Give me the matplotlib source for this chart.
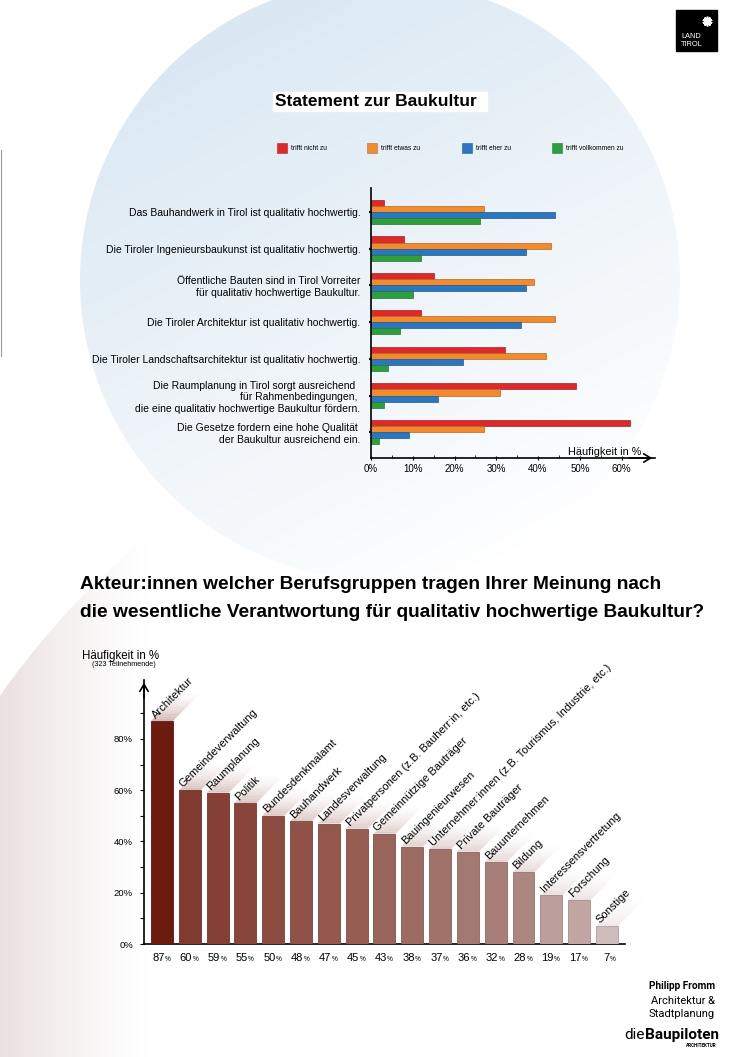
import numpy as np
import matplotlib.pyplot as plt
from matplotlib.patches import Circle, Rectangle, Polygon
from matplotlib.colors import to_rgb

plt.rcParams['font.family'] = ['Liberation Sans', 'DejaVu Sans']

W, H = 740, 1057

# Daten oben: Statement zur Baukultur
aussagen = [
    'Das Bauhandwerk in Tirol ist qualitativ hochwertig.',
    'Die Tiroler Ingenieursbaukunst ist qualitativ hochwertig.',
    'Öffentliche Bauten sind in Tirol Vorreiter\nfür qualitativ hochwertige Baukultur.',
    'Die Tiroler Architektur ist qualitativ hochwertig.',
    'Die Tiroler Landschaftsarchitektur ist qualitativ hochwertig.',
    'Die Raumplanung in Tirol sorgt ausreichend  \nfür Rahmenbedingungen, \ndie eine qualitativ hochwertige Baukultur fördern.',
    'Die Gesetze fordern eine hohe Qualität \nder Baukultur ausreichend ein.',
]
antworten = ['trifft nicht zu', 'trifft etwas zu', 'trifft eher zu', 'trifft vollkommen zu']
trifft_nicht = [3, 8, 15, 12, 32, 49, 62]
trifft_etwas = [27, 43, 39, 44, 42, 31, 27]
trifft_eher = [44, 37, 37, 36, 22, 16, 9]
trifft_voll = [26, 12, 10, 7, 4, 3, 2]
x_ticks_oben = [0, 10, 20, 30, 40, 50, 60]

# Daten unten: Berufsgruppen
berufe = ['Architektur', 'Gemeindeverwaltung', 'Raumplanung', 'Politik',
          'Bundesdenkmalamt', 'Bauhandwerk', 'Landesverwaltung',
          'Privatpersonen (z.B. Bauherr:in, etc.)', 'Gemeinnützige Bauträger',
          'Bauingenieurwesen', 'Unternehmer:innen (z.B. Tourismus, Industrie, etc.)',
          'Private Bauträger', 'Bauunternehmen', 'Bildung',
          'Interessensvertretung', 'Forschung', 'Sonstige']
anteil = [87, 60, 59, 55, 50, 48, 47, 45, 43, 38, 37, 36, 32, 28, 19, 17, 7]
y_ticks_unten = [0, 20, 40, 60, 80]

farben_oben = ['#dc2a2a', '#f28a2e', '#2a77c0', '#2e9e3e']
bar_farben = ['#6d1a0f', '#813a2f', '#853f34', '#894539', '#8d4b40', '#905146',
              '#93574c', '#965d53', '#99645a', '#9c6b62', '#a0726a', '#a37870',
              '#a77f78', '#ab877f', '#bb9e9b', '#c1a6a4', '#cfbcbc']


def dunkler(c, f=0.8):
    r, g, b = to_rgb(c)
    return (r * f, g * f, b * f)


def heller(c, f=0.5):
    r, g, b = to_rgb(c)
    return (r + (1 - r) * f, g + (1 - g) * f, b + (1 - b) * f)


def px_axes(l, t, r, b):
    return fig.add_axes([l / W, 1 - b / H, (r - l) / W, (b - t) / H])


fig = plt.figure(figsize=(W / 100, H / 100), dpi=100)

# Hintergrund
bg = fig.add_axes([0, 0, 1, 1])
bg.set_zorder(0)
yy, xx = np.mgrid[0:H, 0:W].astype(float)

t = np.clip(((xx - 200) * 300 + yy * 570) / 414900, 0, 1)
blau = np.array([0.85, 0.905, 0.95])
img = blau + (1 - blau) * t[..., None]
im = bg.imshow(img, extent=(0, W, H, 0), aspect='auto', interpolation='bilinear')
im.set_clip_path(Circle((380, 280), 300, transform=bg.transData))

a = np.clip(1 - xx / 150, 0, 1) ** 1.3
rosa = np.zeros((H, W, 4))
rosa[..., 0], rosa[..., 1], rosa[..., 2] = 0.925, 0.88, 0.88
rosa[..., 3] = a
im2 = bg.imshow(rosa, extent=(0, W, H, 0), aspect='auto', interpolation='bilinear')
im2.set_clip_path(Circle((650, 1150), 793, transform=bg.transData))

bg.plot([1, 1], [150, 356], color='#9a9a9a', lw=0.8)
bg.set_xlim(0, W)
bg.set_ylim(H, 0)
bg.axis('off')

# Logo Land Tirol
bg.add_patch(Rectangle((676, 10), 41, 41, color='black'))
bg.text(681, 38, 'LAND', color='white', fontsize=5.3, va='baseline')
bg.text(681, 46.5, 'TIROL', color='white', fontsize=5.3, va='baseline')
bg.plot(707, 21, marker=(10, 2, 0), ms=7, color='white', mew=1.2)
bg.plot(707, 21, 'o', ms=4, color='white')

# Titel oben mit weissem Kasten
bg.add_patch(Rectangle((273, 92), 214, 19, color='white'))
bg.text(275, 101.5, 'Statement zur Baukultur', fontsize=12.5, fontweight='bold', va='center')

# Legende
for xpos, farbe, text in zip([277, 367, 462, 552], farben_oben, antworten):
    bg.add_patch(Rectangle((xpos, 143), 10, 10, facecolor=farbe, edgecolor=dunkler(farbe), lw=0.4))
    bg.text(xpos + 14, 148.5, text, fontsize=4.8, va='center')

# Oberes Diagramm
ax1 = px_axes(371, 188, 655, 458)
ax1.set_facecolor('none')
pos = np.arange(len(aussagen))
h = 0.166
for k, (werte, farbe) in enumerate(zip([trifft_nicht, trifft_etwas, trifft_eher, trifft_voll], farben_oben)):
    ax1.barh(pos + (k - 1.5) * h, werte, height=h, color=farbe, edgecolor=dunkler(farbe, 0.75), lw=0.5)
ax1.set_xlim(0, 68)
ax1.set_ylim(6.7, -0.65)
ax1.set_yticks(pos)
ax1.set_yticklabels(aussagen, fontsize=7.5)
ax1.set_xticks(x_ticks_oben)
ax1.set_xticklabels([f'{v}%' for v in x_ticks_oben], fontsize=7)
ax1.set_xticks([5, 15, 25, 35, 45, 55], minor=True)
ax1.tick_params(axis='y', length=1.5, width=1.6, pad=6)
ax1.tick_params(axis='x', which='major', length=3, width=0.8, direction='inout', pad=3)
ax1.tick_params(axis='x', which='minor', length=2, width=0.6, direction='in')
for s in ['top', 'right']:
    ax1.spines[s].set_visible(False)
for s in ['left', 'bottom']:
    ax1.spines[s].set_linewidth(1.2)
ax1.annotate('', xy=(1.0, 0), xytext=(0.9, 0), xycoords='axes fraction',
             arrowprops=dict(arrowstyle='->,head_length=0.5,head_width=0.3', lw=1.2), annotation_clip=False)
bg.text(641, 455, 'Häufigkeit in %', fontsize=7.8, ha='right', va='baseline')

# Titel unten
bg.text(80, 589, 'Akteur:innen welcher Berufsgruppen tragen Ihrer Meinung nach', fontsize=13.8,
        fontweight='bold', va='baseline')
bg.text(80, 617, 'die wesentliche Verantwortung für qualitativ hochwertige Baukultur?', fontsize=13.8,
        fontweight='bold', va='baseline')

# Unteres Diagramm
ax2 = px_axes(144, 680, 625, 944)
ax2.set_facecolor('none')
xpos = np.arange(len(berufe))
bw = 0.79
ax2.set_xlim(-0.645, 16.65)
ax2.set_ylim(0, 103)
ax2.bar(xpos, anteil, width=bw, color=bar_farben, edgecolor=[dunkler(c, 0.85) for c in bar_farben],
        lw=0.6, zorder=3)

sx = (625 - 144) / (16.65 + 0.645)
sy = (944 - 680) / 103.0
L = 28
n = 12
for i, (v, farbe) in enumerate(zip(anteil, bar_farben)):
    xl, xr = i - bw / 2, i + bw / 2
    hc = heller(farbe, 0.62)
    for j in range(n):
        f0, f1 = j / n, (j + 1) / n
        dx0, dy0 = f0 * L / sx, f0 * L / sy
        dx1, dy1 = f1 * L / sx, f1 * L / sy
        ax2.add_patch(Polygon([(xl + dx0, v + dy0), (xr + dx0, v + dy0),
                               (xr + dx1, v + dy1), (xl + dx1, v + dy1)],
                              closed=True, facecolor=hc, edgecolor='none',
                              alpha=0.8 * (1 - f0) ** 1.6, zorder=2, clip_on=False))
    ax2.text(xl + 6 / sx, v + 1 / sy, berufe[i], rotation=45, rotation_mode='anchor',
             ha='left', va='bottom', fontsize=8, zorder=4, clip_on=False)
    ax2.annotate(f'{v}', xy=(i, 0), xytext=(1.8, -12.5), textcoords='offset points',
                 ha='right', va='baseline', fontsize=8, annotation_clip=False)
    ax2.annotate('%', xy=(i, 0), xytext=(2.0, -12.5), textcoords='offset points',
                 ha='left', va='baseline', fontsize=4.7, annotation_clip=False)

ax2.set_xticks([])
ax2.set_yticks(y_ticks_unten)
ax2.set_yticklabels([f'{v}%' for v in y_ticks_unten], fontsize=6.8)
ax2.set_yticks([10, 30, 50, 70, 90], minor=True)
ax2.tick_params(axis='y', which='major', length=3, width=0.8, pad=5)
ax2.tick_params(axis='y', which='minor', length=3, width=0.8)
for s in ['top', 'right']:
    ax2.spines[s].set_visible(False)
for s in ['left', 'bottom']:
    ax2.spines[s].set_linewidth(1.2)
ax2.annotate('', xy=(0, 1.0), xytext=(0, 0.92), xycoords='axes fraction',
             arrowprops=dict(arrowstyle='->,head_length=0.5,head_width=0.3', lw=1.2), annotation_clip=False)
bg.text(82, 659, 'Häufigkeit in %', fontsize=8.3, va='baseline')
bg.text(92, 666.5, '(323 Teilnehmende)', fontsize=5.2, va='baseline')

# Logos unten rechts
bg.text(715, 989, 'Philipp Fromm', fontsize=7.3, fontweight='bold', ha='right', va='baseline', family='Roboto')
bg.text(715, 1004, 'Architektur &', fontsize=8, ha='right', va='baseline', family='Roboto')
bg.text(715, 1017, 'Stadtplanung', fontsize=8, ha='right', va='baseline', family='Roboto')
tb = bg.text(719, 1039, 'Baupiloten', fontsize=11, fontweight='bold', ha='right', va='baseline', family='Roboto')
fig.canvas.draw()
bb = tb.get_window_extent()
bg.text(719 - bb.width, 1039, 'die', fontsize=11, ha='right', va='baseline', family='Roboto')
bg.text(717, 1047, 'ARCHITEKTUR', fontsize=3.3, fontweight='bold', ha='right', va='baseline', family='Roboto')

fig.savefig('out.png', dpi=100)
